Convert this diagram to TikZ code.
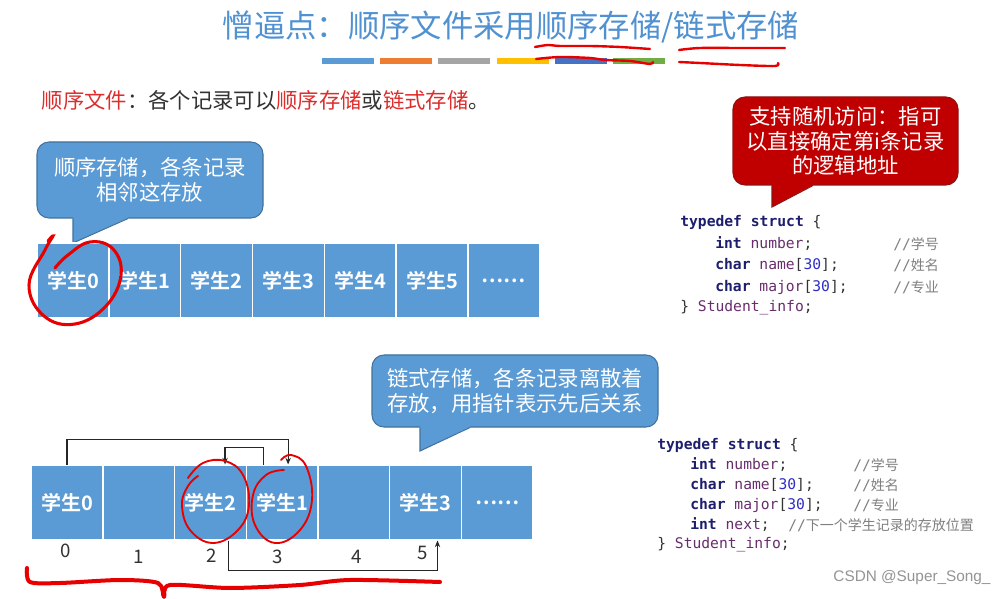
\documentclass[tikz,border=0pt]{standalone}
\usepackage{fontspec}
\setmainfont{Noto Sans CJK SC}[BoldFont={Noto Sans CJK SC Bold}]
\setmonofont{DejaVu Sans Mono}
\newfontfamily\cjk{Noto Sans CJK SC}
\newfontfamily\wmfont{Liberation Sans}
\usepackage{tikz}
\usetikzlibrary{positioning,arrows.meta}

\definecolor{titleblue}{RGB}{80,145,210}
\definecolor{cellblue}{RGB}{91,155,213}
\definecolor{calledge}{RGB}{65,113,156}
\definecolor{calred}{RGB}{192,0,0}
\definecolor{rededge}{RGB}{140,20,20}
\definecolor{textred}{RGB}{222,45,45}
\definecolor{darktext}{RGB}{50,50,50}
\definecolor{inkred}{RGB}{232,0,0}
\definecolor{kwc}{RGB}{30,30,110}
\definecolor{idc}{RGB}{105,45,110}
\definecolor{numc}{RGB}{45,45,200}
\definecolor{cmtc}{RGB}{128,128,128}
\definecolor{barblue}{RGB}{91,155,213}
\definecolor{barorange}{RGB}{237,125,49}
\definecolor{bargray}{RGB}{165,165,165}
\definecolor{baryellow}{RGB}{255,192,0}
\definecolor{bardblue}{RGB}{68,114,196}
\definecolor{bargreen}{RGB}{112,173,71}

\newcommand\ckw[1]{{\bfseries\color{kwc}#1}}
\newcommand\cid[1]{{\color{idc}#1}}
\newcommand\cnum[1]{{\color{numc}#1}}
\newcommand\ccm[1]{{\color{cmtc}//{\cjk\fontsize{10.5}{13}\selectfont #1}}}

\tikzset{
  cell/.style={rectangle, fill=cellblue, draw=white, line width=1pt, minimum width=53.8pt, minimum height=56pt, inner sep=0pt, text=white, font=\fontsize{15}{18}\selectfont\bfseries},
  idx/.style={font=\fontsize{14}{16}\selectfont, text=darktext, inner sep=0pt},
  callbox/.style={rectangle, rounded corners=9pt, fill=cellblue, draw=calledge, line width=0.8pt, text=white, align=center, font=\fontsize{16}{18.5}\selectfont, inner sep=0pt},
  redbox/.style={callbox, fill=calred, draw=rededge},
  tailfill/.style={fill=cellblue},
  tailedge/.style={draw=calledge, line width=0.8pt},
  link/.style={draw=black!85, line width=0.9pt, -{Stealth[length=5pt,width=4pt]}},
  scrib/.style={draw=inkred, line width=1.8pt, line cap=round, line join=round},
  brace/.style={scrib, line width=3pt},
  loopy/.style={draw=inkred, line width=1.4pt, line cap=round},
  code/.style={anchor=west, inner sep=0pt, text=darktext, font=\fontsize{11}{13}\ttfamily}
}

\begin{document}
\begin{tikzpicture}[x=0.75pt, y=-0.75pt]
  \fill[white] (0,0) rectangle (1008,599);
  \useasboundingbox (0,0) rectangle (1008,599);

  % title and colour bars
  \node[font=\fontsize{23.5}{28}\selectfont, text=titleblue] (title) at (511,27) {憎逼点：顺序文件采用顺序存储/链式存储};
  \foreach \c [count=\i from 0] in {barblue,barorange,bargray,baryellow,bardblue,bargreen}
    \fill[\c] (322+\i*58.2,58) rectangle ++(52,6);

  \node[anchor=west, font=\fontsize{16}{19}\selectfont, text=darktext] (intro) at (37,100)
    {\textcolor{textred}{顺序文件}：各个记录可以\textcolor{textred}{顺序存储}或\textcolor{textred}{链式存储}。};

  % sequential storage
  \node[callbox, minimum width=169.5pt, minimum height=57pt] (seqnote) at (150,180) {顺序存储，各条记录\\相邻这存放};
  \fill[tailfill] (73,215) -- (73,243) -- (128,218) -- (128,215) -- cycle;
  \draw[tailedge] (73,218.5) -- (73,243) -- (128,218.5);
  \foreach \t [count=\i from 0] in {学生0,学生1,学生2,学生3,学生4,学生5,……}
    \node[cell] (a\i) at (73+\i*71.8,280.5) {\t};

  \node[redbox, minimum width=168.75pt, minimum height=66pt] (rndnote) at (845.5,141) {支持随机访问：指可\\以直接确定第i条记录\\的逻辑地址};
  \fill[calred] (772,183) -- (772,207) -- (813,185) -- (813,183) -- cycle;
  \draw[draw=rededge, line width=0.8pt] (772,185.5) -- (772,207) -- (813,185.5);

  \node[code] (s1) at (680,222) {\ckw{typedef} \ckw{struct} \{};
  \node[code] (s2) at (715,244) {\ckw{int} \cid{number};};
  \node[code] (s3) at (715,265) {\ckw{char} \cid{name}[\cnum{30}];};
  \node[code] (s4) at (715,287) {\ckw{char} \cid{major}[\cnum{30}];};
  \node[code] (s5) at (680,308) {\} \cid{Student\_info};};
  \node[code] (m2) at (893,244) {\ccm{学号}};
  \node[code] (m3) at (893,265) {\ccm{姓名}};
  \node[code] (m4) at (893,287) {\ccm{专业}};

  % linked storage
  \node[callbox, minimum width=214.5pt, minimum height=54pt] (lnknote) at (515,391) {链式存储，各条记录离散着\\存放，用指针表示先后关系};
  \fill[tailfill] (420,425) -- (420,451) -- (470,427) -- (470,425) -- cycle;
  \draw[tailedge] (420,427.5) -- (420,451) -- (470,427.5);
  \foreach \t [count=\i from 0] in {学生0,{},学生2,学生1,{},学生3,……}
    \node[cell] (b\i) at (67+\i*71.7,502.5) {\t};
  \foreach \x/\y [count=\i from 0] in {66/551,139/557,212/556,278/557,357/557,423/553}
    \node[idx] (n\i) at (\x,\y) {\i};

  \draw[link] (b0.north) -- ++(0,-25) -| ([xshift=4.5pt]b3.north);
  \draw[link] ([xshift=-14pt]b3.north) -- ++(0,-17) -| ([xshift=11pt]b2.north);
  \draw[link] ([xshift=13.5pt]b2.south) -- ++(0,30) -| ([xshift=9pt]b5.south);

  \node[code] (t1) at (657,445) {\ckw{typedef} \ckw{struct} \{};
  \node[code] (t2) at (690,465) {\ckw{int} \cid{number};};
  \node[code] (t3) at (690,485) {\ckw{char} \cid{name}[\cnum{30}];};
  \node[code] (t4) at (690,505) {\ckw{char} \cid{major}[\cnum{30}];};
  \node[code] (t5) at (690,525) {\ckw{int} \cid{next};};
  \node[code] (t6) at (657,545) {\} \cid{Student\_info};};
  \node[code] (k2) at (853,465) {\ccm{学号}};
  \node[code] (k3) at (853,485) {\ccm{姓名}};
  \node[code] (k4) at (853,505) {\ccm{专业}};
  \node[code] (k5) at (788,525) {\ccm{下一个学生记录的存放位置}};

  \node[font=\wmfont\fontsize{11.5}{14}\selectfont, text=black!42] (wm) at (912,578) {CSDN @Super\_Song\_};

  % red pen marks
  \draw[scrib] plot[smooth] coordinates {(535,47) (548,45) (560,46) (590,46) (620,47) (650,49)};
  \draw[scrib] plot[smooth] coordinates {(536,59) (560,57) (590,58) (605,60) (630,61) (650,64) (653,62)};
  \draw[scrib] plot[smooth] coordinates {(679,50) (700,48) (740,48) (785,48)};
  \draw[scrib] plot[smooth] coordinates {(679,62) (700,63) (740,65) (775,66) (778,63)};
  \draw[loopy, line width=2.3pt] plot[smooth, tension=0.7] coordinates {(48,241) (53,236) (45,250) (29,285) (44,316) (75,324) (106,306) (121,275) (113,249) (90,242) (68,255) (55,268)};
  \draw[loopy] plot[smooth, tension=0.7] coordinates {(198,476) (188,486) (182,505) (190,530) (213,543) (238,530) (249,505) (243,475) (225,461) (203,463) (188,478)};
  \draw[loopy] plot[smooth, tension=0.7] coordinates {(284,470) (266,475) (253,495) (255,525) (275,543) (300,530) (312,500) (306,466) (291,455) (281,460)};
  \draw[brace] plot[smooth, tension=0.5] coordinates {(27,568) (30,582) (60,583) (120,580) (158,583) (164,597) (170,585) (230,588) (300,585) (350,580) (440,582)};
\end{tikzpicture}
\end{document}
